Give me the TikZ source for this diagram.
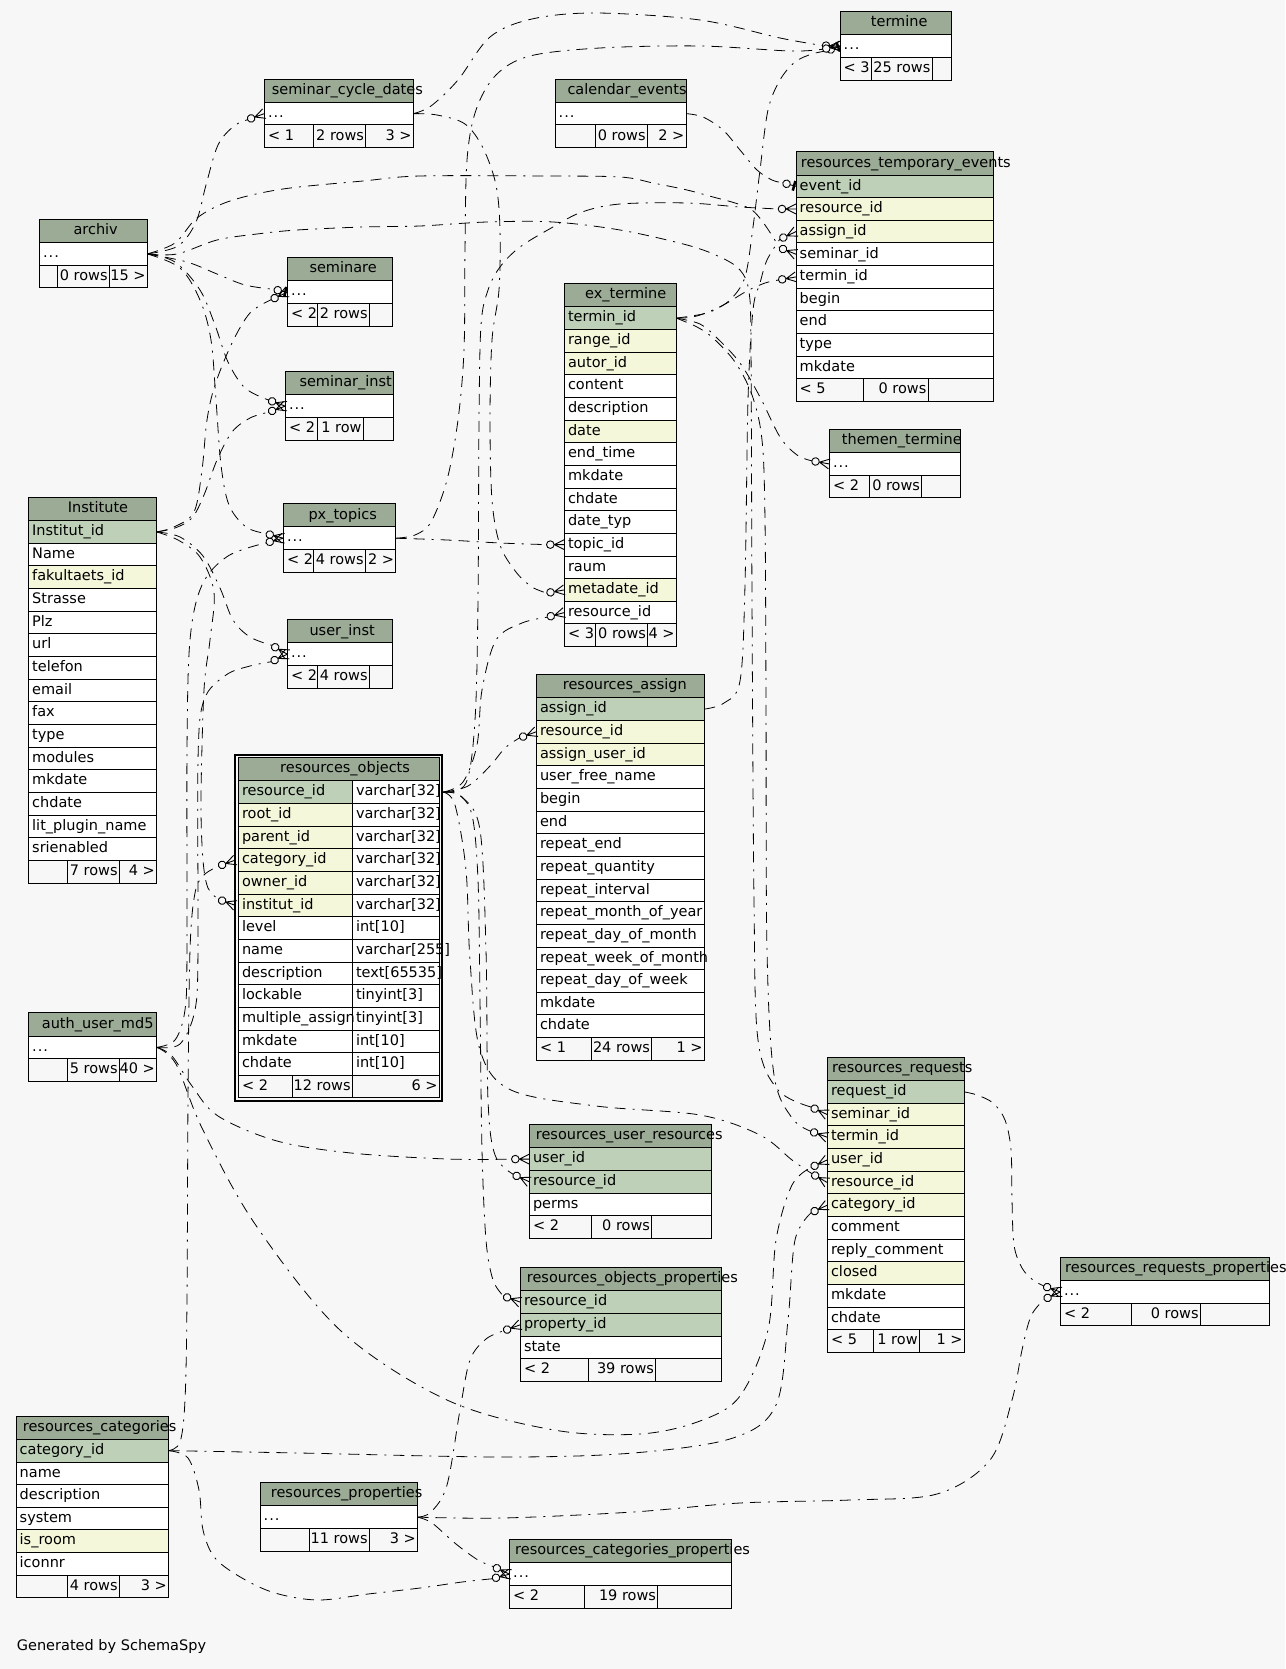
\documentclass[tikz,border=0pt]{standalone}
\usepackage{fontspec}
\setmainfont{DejaVu Sans}
\definecolor{bgc}{HTML}{F7F7F7}
\definecolor{hdrc}{HTML}{9BAB96}
\definecolor{colP}{HTML}{BED1B8}
\definecolor{colF}{HTML}{F4F7DA}
\definecolor{colW}{HTML}{FFFFFF}
\pgfdeclarelayer{back}
\pgfdeclarelayer{edges}
\pgfsetlayers{back,edges,main}
\newcommand\dts{.\kern1pt.\kern1pt.}
\tikzset{
  rowb/.style={draw=black, line width=0.9pt, minimum height=22.65pt, inner sep=0pt, outer sep=0pt, anchor=north west},
  hdrb/.style={rowb, minimum height=23.3pt, fill=hdrc},
  txt/.style={anchor=west, inner sep=0pt, font=\fontsize{14.5}{16}\selectfont, text height=10.5pt, text depth=3pt},
  edge/.style={line width=0.8pt, dash pattern=on 11pt off 7pt on 11pt off 7pt on 2pt off 7pt},
  mk/.style={line width=0.9pt},
}
% table: name, L, R, T, title x, title, rows
\newcommand\tbl[7]{%
  \node[hdrb, minimum width={#3-#2}] (#1) at (#2,#4) {};
  \node[txt] (#1-t) at (#5,{#4+11.65}) {#6};
  \foreach \rc/\rt [count=\i from 0] in {#7} {
    \node[rowb, fill=\rc, minimum width={#3-#2}] (#1-\i) at (#2,{#4+23.3+\i*22.65}) {};
    \node[txt] (#1-\i-t) at ([xshift=3.5pt]#1-\i.west) {\rt};
  }%
}
% footer: name, L, R, top, d1, d2, t1, t2, t3
\newcommand\tft[9]{%
  \node[rowb, fill=bgc, minimum width={#3-#2}] (#1-f) at (#2,#4) {};
  \draw[line width=0.9pt] (#5,#4) -- (#5,{#4+22.65}) (#6,#4) -- (#6,{#4+22.65});
  \node[txt] (#1-fa) at ([xshift=3.5pt]#1-f.west) {#7};
  \node[txt,anchor=east] (#1-fb) at ({#6-1.5},{#4+11.325}) {#8};
  \node[txt,anchor=east] (#1-fc) at ({#3-1.5},{#4+11.325}) {#9};
}
\newcommand\crowodot[3]{%
  \begin{scope}[shift={(#2)}, rotate=#3]
    \draw[mk] (10pt,0pt) -- (0pt,5pt) (10pt,0pt) -- (0pt,0pt) (10pt,0pt) -- (0pt,-5pt);
    \draw[mk, fill=bgc] (14pt,0pt) circle (3.8pt);
  \end{scope}
  \coordinate (#1) at ([shift={(#3:17.8pt)}]#2);
}
\newcommand\teeodot[3]{%
  \begin{scope}[shift={(#2)}, rotate=#3]
    \draw[line width=2.5pt] (2pt,5pt) -- (2pt,-5pt);
    \draw[mk] (0pt,0pt) -- (6pt,0pt);
    \draw[mk, fill=bgc] (9.8pt,0pt) circle (3.8pt);
  \end{scope}
  \coordinate (#1) at ([shift={(#3:13.6pt)}]#2);
}
\begin{document}
\begin{tikzpicture}[x=1pt,y=-1pt]
\useasboundingbox (0,0) rectangle (1285,1669);
\begin{pgfonlayer}{back}
\fill[bgc] (0,0) rectangle (1285,1669);
\end{pgfonlayer}

% ---------- tables ----------
\tbl{tm}{840}{951}{11.5}{870.7}{termine}{colW/\dts}
\tft{tm}{840}{951}{57.45}{871}{932}{< 3}{25 rows}{}

\tbl{ce}{555}{686}{79}{567.3}{calendar\_events}{colW/\dts}
\tft{ce}{555}{686}{124.95}{595.3}{647.3}{}{0 rows}{2 >}

\tbl{scd}{264.3}{413.3}{79}{271.7}{seminar\_cycle\_dates}{colW/\dts}
\tft{scd}{264.3}{413.3}{124.95}{313.3}{365.7}{< 1}{2 rows}{3 >}

\tbl{ret}{796}{993}{151.7}{800.7}{resources\_temporary\_events}{colP/event\_id, colF/resource\_id, colF/assign\_id, colW/seminar\_id, colW/termin\_id, colW/begin, colW/end, colW/type, colW/mkdate}
\tft{ret}{796}{993}{378.85}{863}{928}{< 5}{0 rows}{}

\tbl{ar}{39.4}{147.3}{219.3}{73.3}{archiv}{colW/\dts}
\tft{ar}{39.4}{147.3}{265.25}{57.3}{109.3}{}{0 rows}{15 >}

\tbl{sem}{287.3}{392.3}{257.6}{309.3}{seminare}{colW/\dts}
\tft{sem}{287.3}{392.3}{303.55}{317.3}{369.3}{< 2}{2 rows}{}

\tbl{ext}{564.3}{676.3}{283.5}{585}{ex\_termine}{colP/termin\_id, colF/range\_id, colF/autor\_id, colW/content, colW/description, colF/date, colW/end\_time, colW/mkdate, colW/chdate, colW/date\_typ, colW/topic\_id, colW/raum, colF/metadate\_id, colW/resource\_id}
\tft{ext}{564.3}{676.3}{623.9}{595.3}{647.7}{< 3}{0 rows}{4 >}

\tbl{si}{285.3}{393.3}{371.5}{299.3}{seminar\_inst}{colW/\dts}
\tft{si}{285.3}{393.3}{417.45}{317.3}{363.3}{< 2}{1 row}{}

\tbl{tt}{829.3}{960.3}{429.3}{841.7}{themen\_termine}{colW/\dts}
\tft{tt}{829.3}{960.3}{475.25}{869.3}{921.7}{< 2}{0 rows}{}

\tbl{ins}{28.5}{156.6}{497.3}{67.7}{Institute}{colP/Institut\_id, colW/Name, colF/fakultaets\_id, colW/Strasse, colW/Plz, colW/url, colW/telefon, colW/email, colW/fax, colW/type, colW/modules, colW/mkdate, colW/chdate, colW/lit\_plugin\_name, colW/srienabled}
\tft{ins}{28.5}{156.6}{860.35}{67.7}{119.3}{}{7 rows}{4 >}

\tbl{px}{283.3}{395.7}{503.6}{308.3}{px\_topics}{colW/\dts}
\tft{px}{283.3}{395.7}{549.55}{313.7}{365.3}{< 2}{4 rows}{2 >}

\tbl{ui}{287.3}{392.3}{619.6}{309.3}{user\_inst}{colW/\dts}
\tft{ui}{287.3}{392.3}{665.55}{317.3}{369.3}{< 2}{4 rows}{}

\tbl{ra}{536.3}{704.3}{674.5}{562.7}{resources\_assign}{colP/assign\_id, colF/resource\_id, colF/assign\_user\_id, colW/user\_free\_name, colW/begin, colW/end, colW/repeat\_end, colW/repeat\_quantity, colW/repeat\_interval, colW/repeat\_month\_of\_year, colW/repeat\_day\_of\_month, colW/repeat\_week\_of\_month, colW/repeat\_day\_of\_week, colW/mkdate, colW/chdate}
\tft{ra}{536.3}{704.3}{1037.55}{591.7}{651.7}{< 1}{24 rows}{1 >}

\tbl{au}{28.5}{156.6}{1012.7}{41.7}{auth\_user\_md5}{colW/\dts}
\tft{au}{28.5}{156.6}{1058.65}{67.7}{119.3}{}{5 rows}{40 >}

\tbl{rr}{827.3}{964.3}{1057.3}{832}{resources\_requests}{colP/request\_id, colF/seminar\_id, colF/termin\_id, colF/user\_id, colF/resource\_id, colF/category\_id, colW/comment, colW/reply\_comment, colF/closed, colW/mkdate, colW/chdate}
\tft{rr}{827.3}{964.3}{1329.75}{873.3}{919.3}{< 5}{1 row}{1 >}

\tbl{rrp}{1060.3}{1269.3}{1257.3}{1065}{resources\_requests\_properties}{colW/\dts}
\tft{rrp}{1060.3}{1269.3}{1303.25}{1131.3}{1200.3}{< 2}{0 rows}{}

\tbl{rur}{529.3}{711.3}{1124.5}{535.7}{resources\_user\_resources}{colP/user\_id, colP/resource\_id, colW/perms}
\tft{rur}{529.3}{711.3}{1215.75}{591.3}{651.7}{< 2}{0 rows}{}

\tbl{rop}{520.3}{721}{1267.5}{526.7}{resources\_objects\_properties}{colP/resource\_id, colP/property\_id, colW/state}
\tft{rop}{520.3}{721}{1358.75}{588.7}{655.7}{< 2}{39 rows}{}

\tbl{rc}{16}{168.5}{1416}{22.7}{resources\_categories}{colP/category\_id, colW/name, colW/description, colW/system, colF/is\_room, colW/iconnr}
\tft{rc}{16}{168.5}{1575.2}{67.3}{119.3}{}{4 rows}{3 >}

\tbl{rp}{260}{417.5}{1482.5}{270.7}{resources\_properties}{colW/\dts}
\tft{rp}{260}{417.5}{1528.45}{309.3}{369.3}{}{11 rows}{3 >}

\tbl{rcp}{509.5}{731}{1539.5}{515}{resources\_categories\_properties}{colW/\dts}
\tft{rcp}{509.5}{731}{1585.45}{584.7}{657.7}{< 2}{19 rows}{}

% focus table resources_objects
\node[hdrb, minimum width=201] (ro) at (238.3,757.5) {};
\node[txt] (ro-t) at (280,769.15) {resources\_objects};
\foreach \rc/\rn/\ry [count=\i from 0] in {colP/resource\_id/varchar[32], colF/root\_id/varchar[32], colF/parent\_id/varchar[32], colF/category\_id/varchar[32], colF/owner\_id/varchar[32], colF/institut\_id/varchar[32], colW/level/int[10], colW/name/varchar[255], colW/description/text[65535], colW/lockable/tinyint[3], colW/multiple\_assign/tinyint[3], colW/mkdate/int[10], colW/chdate/int[10]} {
  \node[rowb, fill=\rc, minimum width=114] (ro-\i) at (238.3,{780.8+\i*22.65}) {};
  \node[rowb, fill=colW, minimum width=87] (ro-\i-ty) at (352.3,{780.8+\i*22.65}) {};
  \node[txt] (ro-\i-t) at ([xshift=3.5pt]ro-\i.west) {\rn};
  \node[txt] (ro-\i-u) at ([xshift=3.5pt]ro-\i-ty.west) {\ry};
}
\tft{ro}{238.3}{439.3}{1075.25}{292.3}{352.3}{< 2}{12 rows}{6 >}
\node[draw, line width=2pt, minimum width=207, minimum height=346, anchor=north west, inner sep=0pt, outer sep=0pt] (robox) at (235.3,754.5) {};
\coordinate (ro0e) at ([xshift=4pt]ro-0-ty.east);
\coordinate (ro3w) at ([xshift=-3pt]ro-3.west);
\coordinate (ro5w) at ([xshift=-3pt]ro-5.west);

\node[txt] (gen) at (16.7,1646.7) {Generated by SchemaSpy};

% ---------- markers ----------
\crowodot{m1}{scd-0.west}{200}
\teeodot{m2}{sem-0.west}{168}
\crowodot{m3}{si-0.west}{160}
\crowodot{m4}{px-0.west}{165}
\crowodot{m5}{ui-0.west}{150}
\crowodot{m6}{si-0.west}{200}
\crowodot{m7}{sem-0.west}{205}
\crowodot{m8}{px-0.west}{195}
\crowodot{m9}{ui-0.west}{205}
\crowodot{m12}{ro5w}{160}
\crowodot{m13}{ro3w}{200}
\crowodot{m14}{rur-0.west}{180}
\crowodot{m15}{rr-3.west}{205}
\crowodot{m16}{rr-5.west}{205}
\crowodot{m17}{rcp-0.west}{195}
\crowodot{m18}{rcp-0.west}{155}
\crowodot{m19}{rop-1.west}{200}
\crowodot{m20}{rrp-0.west}{205}
\crowodot{m21}{rrp-0.west}{160}
\crowodot{m22}{rop-0.west}{160}
\crowodot{m23}{rur-1.west}{155}
\crowodot{m24}{rr-4.west}{150}
\crowodot{m25}{ra-1.west}{200}
\crowodot{m26}{ext-13.west}{195}
\crowodot{m27}{ret-1.west}{180}
\crowodot{m28}{rr-1.west}{155}
\crowodot{m28b}{ret-3.west}{158}
\teeodot{m29}{ret-0.west}{165}
\crowodot{m30}{ret-4.west}{190}
\crowodot{m31}{tt-0.west}{170}
\crowodot{m32}{rr-2.west}{160}
\teeodot{m33}{tm-0.west}{200}
\crowodot{m34}{tm-0.west}{178}
\crowodot{m35}{tm-0.west}{190}
\crowodot{m36}{ext-12.west}{190}
\crowodot{m37}{ext-10.west}{180}
\crowodot{m38}{ret-2.west}{205}

% ---------- connectors ----------
\begin{pgfonlayer}{edges}
\tikzset{every plot/.style={smooth, tension=0.55}}
\draw[edge] plot coordinates {(ar-0.east) (178,246) (196,222) (206,185) (218,145) (234,126) (m1)};
\draw[edge] plot coordinates {(ar-0.east) (187,262) (217,274) (245,285) (m2)};
\draw[edge] plot coordinates {(ar-0.east) (175,262) (200,290) (215,325) (228,362) (245,388) (m3)};
\draw[edge] plot coordinates {(ar-0.east) (180,268) (200,300) (211,340) (216,400) (221,465) (229,505) (246,527) (m4)};
\draw[edge] plot coordinates {(ins-0.east) (180,537) (203,556) (220,588) (233,620) (250,637) (m5)};
\draw[edge] plot coordinates {(ins-0.east) (175,528) (192,518) (204,495) (217,460) (232,432) (250,418) (m6)};
\draw[edge] plot coordinates {(ins-0.east) (174,527) (194,512) (202,470) (207,420) (215,385) (232,343) (250,313) (m7)};
\draw[edge] plot coordinates {(au-0.east) (175,1040) (185,1010) (187,950) (187,750) (190,640) (202,585) (228,556) (m8)};
\draw[edge] plot coordinates {(au-0.east) (180,1044) (195,1010) (198,950) (198,760) (204,700) (226,675) (250,666) (m9)};
\draw[edge] plot coordinates {(ins-0.east) (178,540) (200,557) (214,592) (210,640) (204,690) (201,800) (203,860) (208,888) (m12)};
\draw[edge] plot coordinates {(rc-0.east) (180,1442) (185,1400) (187,1300) (188,1100) (190,950) (195,893) (204,875) (m13)};
\draw[edge] plot coordinates {(au-0.east) (172,1056) (192,1086) (218,1116) (277,1141) (351,1153) (447,1159) (m14)};
\draw[edge] plot coordinates {(au-0.east) (176,1064) (202,1128) (255,1224) (341,1331) (447,1400) (554,1430) (640,1434) (700,1421) (740,1396) (768,1330) (776,1240) (792,1185) (m15)};
\draw[edge] plot coordinates {(rc-0.east) (300,1453) (503,1457) (633,1453) (733,1438) (776,1405) (788,1320) (795,1240) (m16)};
\draw[edge] plot coordinates {(rc-0.east) (188,1458) (199,1490) (203,1530) (215,1558) (242,1578) (275,1593) (318,1600) (368,1594) (420,1588) (462,1582) (m17)};
\draw[edge] plot coordinates {(rp-0.east) (432,1523) (456,1544) (478,1560) (m18)};
\draw[edge] plot coordinates {(rp-0.east) (431,1512) (447,1485) (460,1410) (470,1360) (486,1339) (m19)};
\draw[edge] plot coordinates {(rp-0.east) (503,1518) (633,1512) (740,1503) (850,1500) (937,1494) (990,1460) (1012,1400) (1022,1350) (1031,1316) (m20)};
\draw[edge] plot coordinates {(rr-0.east) (977,1095) (993,1103) (1005,1120) (1011,1150) (1012,1200) (1014,1245) (1022,1268) (1033,1280) (m21)};
\draw[edge] plot coordinates {(ro0e) (458,794) (472,815) (478,880) (480,1000) (482,1150) (486,1240) (493,1280) (m22)};
\draw[edge] plot coordinates {(ro0e) (462,797) (480,830) (486,950) (488,1100) (495,1155) (m23)};
\draw[edge] plot coordinates {(ro0e) (455,805) (466,870) (470,960) (480,1050) (511,1090) (596,1106) (700,1115) (760,1135) (792,1160) (m24)};
\draw[edge] plot coordinates {(ro0e) (468,786) (490,766) (505,748) (m25)};
\draw[edge] plot coordinates {(ro0e) (463,782) (477,745) (482,690) (496,640) (522,623) (m26)};
\draw[edge] plot coordinates {(ro0e) (466,783) (475,720) (478,600) (479,420) (481,325) (488,290) (500,267) (520,247) (553,227) (582,212) (620,204) (687,203) (740,207) (m27)};
% archiv lower line -> resources_requests.seminar_id
\draw[edge] plot coordinates {(ar-0.east) (177,254) (217,240) (257,234) (297,230) (363,227) (420,226) (487,222) (553,222) (620,230) (687,245) (720,257) (740,270) (749,292) (751,350) (752,600) (754,900) (758,1040) (778,1090) (m28)};
% archiv upper line -> resources_temporary_events.seminar_id
\draw[edge] plot coordinates {(ar-0.east) (175,243) (197,218) (230,201) (283,189) (363,181) (420,176) (543,176) (620,177) (653,183) (687,190) (713,197) (735,203) (752,210) (765,225) (m28b)};
\draw[edge] plot coordinates {(ce-0.east) (703,117) (723,130) (740,150) (757,170) (772,180) (m29)};
\draw[edge] plot coordinates {(ext-0.east) (707,313) (727,303) (747,291) (765,283) (m30)};
\draw[edge] plot coordinates {(ext-0.east) (700,324) (717,338) (740,363) (760,397) (780,437) (797,455) (m31)};
\draw[edge] plot coordinates {(ext-0.east) (697,327) (713,338) (735,362) (752,395) (762,440) (765,520) (766,700) (767,950) (774,1075) (792,1118) (m32)};
\draw[edge] plot coordinates {(ext-0.east) (693,317) (713,310) (730,300) (745,277) (753,227) (760,170) (768,110) (780,80) (795,62) (812,54) (m33)};
\draw[edge] plot coordinates {(scd-0.east) (431,106) (458,80) (490,37) (532,19) (596,13) (700,20) (780,38) (m34)};
\draw[edge] plot coordinates {(px-0.east) (415,535) (431,522) (447,480) (458,420) (464,350) (465,250) (467,160) (476,110) (496,75) (530,56) (600,48) (700,46) (790,51) (m35)};
\draw[edge] plot coordinates {(scd-0.east) (437,115) (465,124) (483,148) (496,185) (500,230) (499,290) (492,340) (490,420) (492,500) (500,545) (516,572) (532,587) (m36)};
\draw[edge] plot coordinates {(px-0.east) (447,540) (500,543) (m37)};
\draw[edge] plot coordinates {(ra-0.east) (724,703) (740,681) (745,585) (748,400) (753,310) (760,283) (767,260) (m38)};
\end{pgfonlayer}
\end{tikzpicture}
\end{document}
